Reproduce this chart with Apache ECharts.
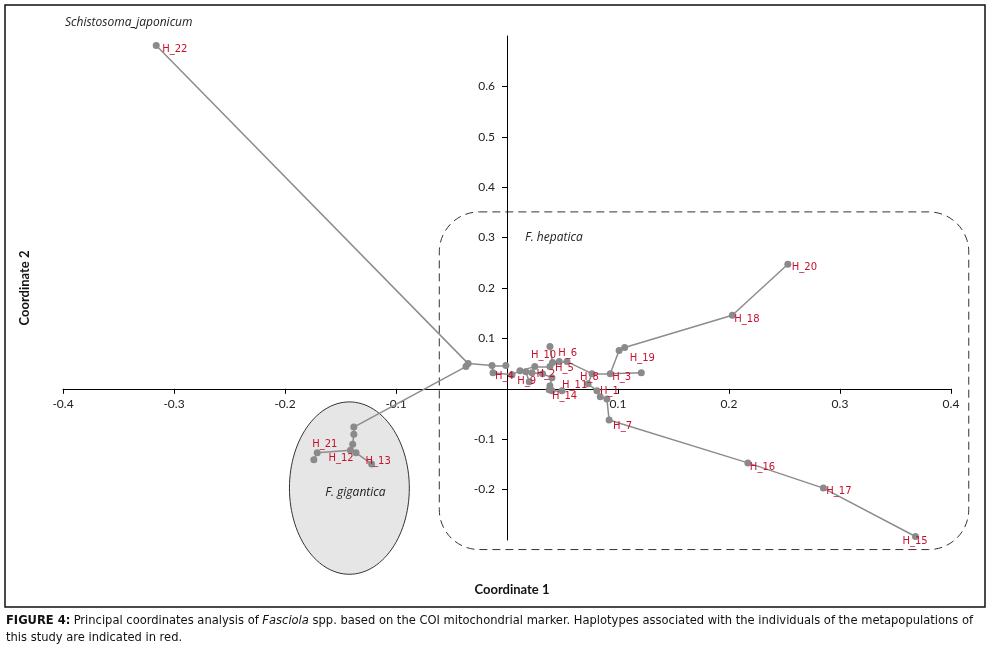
<!DOCTYPE html>
<html>
<head>
<meta charset="utf-8">
<script src="https://cdn.jsdelivr.net/npm/echarts@6/dist/echarts.min.js"></script>
<style>
html, body { margin: 0; padding: 0; background: #fff; }
#pcoa { width: 991px; height: 654px; }
</style>
</head>
<body>
<div id="pcoa"></div>
<script>
// haplotypes and unlabelled network nodes (names starting with "n")
var nodeNames = ['H_22', 'n1', 'n2', 'n3', 'n4', 'n5', 'H_12', 'H_21', 'n6', 'n7', 'H_13',
    'n8', 'n9', 'H_4', 'n10', 'n11', 'n12', 'n13', 'H_9', 'n14', 'H_2', 'n15', 'H_10', 'n16',
    'H_6', 'H_5', 'n17', 'n18', 'n19', 'n20', 'H_14', 'H_8', 'H_11', 'H_1', 'n21', 'n22', 'H_7',
    'H_3', 'n23', 'n24', 'H_19', 'H_18', 'H_20', 'H_16', 'H_17', 'H_15'];
var coord1 = [-0.316, -0.035, -0.037, -0.138, -0.138, -0.139, -0.141, -0.171, -0.174, -0.136, -0.122,
    -0.0135, -0.001, -0.0126, 0.0045, 0.0117, 0.017, 0.0225, 0.020, 0.025, 0.032, 0.0387, 0.0387, 0.041,
    0.047, 0.054, 0.0405, 0.0387, 0.038, 0.0405, 0.0495, 0.0766, 0.073, 0.081, 0.084, 0.090, 0.092,
    0.093, 0.121, 0.101, 0.106, 0.203, 0.253, 0.217, 0.285, 0.368];
var coord2 = [0.681, 0.050, 0.044, -0.076, -0.090, -0.110, -0.122, -0.127, -0.141, -0.127, -0.149,
    0.046, 0.046, 0.032, 0.028, 0.036, 0.034, 0.032, 0.014, 0.044, 0.030, 0.084, 0.044, 0.052,
    0.054, 0.054, 0.022, 0.006, -0.002, -0.004, -0.004, 0.030, 0.010, -0.004, -0.016, -0.020, -0.062,
    0.030, 0.032, 0.076, 0.082, 0.146, 0.247, -0.147, -0.197, -0.293];
var edges = [
    ['H_22', 'n1'], ['n1', 'n2'], ['n2', 'n3'], ['n3', 'n4'], ['n4', 'n5'], ['n5', 'H_12'],
    ['H_12', 'H_21'], ['H_21', 'n6'], ['H_12', 'n7'], ['n7', 'H_13'],
    ['n1', 'n8'], ['n8', 'n9'], ['n8', 'H_4'], ['H_4', 'n10'], ['n10', 'n11'], ['n11', 'n12'],
    ['n12', 'n13'], ['n12', 'H_9'], ['n11', 'n14'], ['n14', 'H_10'], ['H_10', 'n16'], ['n16', 'n15'],
    ['n16', 'H_6'], ['H_6', 'H_5'], ['H_5', 'H_8'], ['H_8', 'H_3'], ['H_3', 'n23'], ['H_3', 'n24'],
    ['n24', 'H_19'], ['H_19', 'H_18'], ['H_18', 'H_20'], ['H_8', 'H_11'], ['H_11', 'H_1'],
    ['H_1', 'n21'], ['n21', 'n22'], ['n22', 'H_7'], ['H_7', 'H_16'], ['H_16', 'H_17'], ['H_17', 'H_15'],
    ['n13', 'H_2'], ['H_2', 'n17'], ['n17', 'n18'], ['n18', 'n19'], ['n19', 'n20'], ['n20', 'H_14']
];
// group outlines, in axis units
var giganticaEllipse = { cx: -0.142, cy: -0.197, rx: 0.054, ry: 0.171 };
var hepaticaBox = { x0: -0.061, x1: 0.416, y0: -0.319, y1: 0.351 };
var xRange = [-0.4, 0.4];
var yRange = [-0.3, 0.7];
var xTicks = [-0.4, -0.3, -0.2, -0.1, 0.1, 0.2, 0.3, 0.4];
var yTicks = [-0.2, -0.1, 0.1, 0.2, 0.3, 0.4, 0.5, 0.6];

// label placement (pixels from the point)
var labelOffset = {
    H_22: [6, 4], H_20: [4, 3], H_18: [2, 4], H_19: [5, 11], H_3: [2, 4], H_8: [-12, 4],
    H_1: [3, 1], H_11: [-26, 2], H_14: [-10, 6], H_5: [-12, 7], H_6: [-1, -8], H_10: [-19, -11],
    H_2: [-6, 1], H_9: [-12, 0], H_4: [2, 4], H_7: [4, 6], H_16: [2, 5], H_17: [3, 3],
    H_15: [-13, 5], H_21: [-5, -8], H_12: [-22, 8], H_13: [-6, -2]
};

var nodes = nodeNames.map(function (n, i) {
    var item = { name: n, value: [coord1[i], coord2[i]] };
    if (n.indexOf('H_') === 0) {
        item.label = { show: true, offset: labelOffset[n] || [3, 3] };
    }
    return item;
});
var links = edges.map(function (e) { return { source: e[0], target: e[1] }; });

function oneDecimal(v) { return v.toFixed(1); }

var W = 991, H = 654;
var gridBox = { left: 63, right: 40, top: 36, bottom: 114 };
var plotW = W - gridBox.left - gridBox.right;
var plotH = H - gridBox.top - gridBox.bottom;
// axes cross at the origin: shift them there so the tick labels follow
var xAxisShift = plotH * (0 - yRange[0]) / (yRange[1] - yRange[0]);
var yAxisShift = plotW * (0 - xRange[0]) / (xRange[1] - xRange[0]);

var myChart = echarts.init(document.getElementById('pcoa'));

var option = {
    animation: false,
    grid: gridBox,
    xAxis: {
        type: 'value', min: xRange[0], max: xRange[1], interval: 0.1,
        position: 'bottom', offset: -xAxisShift,
        axisLine: { show: true, onZero: false, lineStyle: { color: '#000', width: 1 } },
        axisTick: { show: true, length: 5, customValues: xTicks, lineStyle: { color: '#000' } },
        axisLabel: { customValues: xTicks, formatter: oneDecimal, margin: 9, color: '#222', fontFamily: 'Lato', fontSize: 12 },
        splitLine: { show: false }
    },
    yAxis: {
        type: 'value', min: yRange[0], max: yRange[1], interval: 0.1,
        position: 'left', offset: -yAxisShift,
        axisLine: { show: true, onZero: false, lineStyle: { color: '#000', width: 1 } },
        axisTick: { show: true, length: 5, customValues: yTicks, lineStyle: { color: '#000' } },
        axisLabel: { customValues: yTicks, formatter: oneDecimal, margin: 12, color: '#222', fontFamily: 'Lato', fontSize: 12 },
        splitLine: { show: false }
    },
    series: [{
        type: 'graph',
        coordinateSystem: 'cartesian2d',
        layout: 'none',
        symbol: 'circle',
        symbolSize: 7,
        z: 5,
        itemStyle: { color: '#8a8a8a' },
        lineStyle: { color: '#8c8c8c', width: 1.5, opacity: 1, curveness: 0 },
        label: {
            show: false, position: 'inside', align: 'left', verticalAlign: 'middle',
            color: '#c8102e', fontFamily: 'DejaVu Sans', fontSize: 10,
            formatter: '{b}'
        },
        emphasis: { disabled: true },
        data: nodes,
        links: links
    }]
};

myChart.setOption(option);

// outlines and texts
function px(p) { return myChart.convertToPixel({ gridIndex: 0 }, p); }
var c = px([giganticaEllipse.cx, giganticaEllipse.cy]);
var e1 = px([giganticaEllipse.cx + giganticaEllipse.rx, giganticaEllipse.cy + giganticaEllipse.ry]);
var rxp = e1[0] - c[0], ryp = c[1] - e1[1];
var ellPts = [];
for (var k = 0; k < 120; k++) {
    var a = k / 120 * Math.PI * 2;
    ellPts.push([c[0] + rxp * Math.cos(a), c[1] + ryp * Math.sin(a)]);
}
var b0 = px([hepaticaBox.x0, hepaticaBox.y1]);
var b1 = px([hepaticaBox.x1, hepaticaBox.y0]);

var italic = { fontFamily: 'Open Sans', fontStyle: 'italic', fontSize: 12, fill: '#222' };
var capFont = "'DejaVu Sans Condensed', 'Liberation Sans Narrow', sans-serif";
var capSize = 12.8;

myChart.setOption({
    graphic: [
        { type: 'rect', z: -10, shape: { x: 5, y: 5, width: 980, height: 602 },
          style: { fill: 'none', stroke: '#111', lineWidth: 1.5 } },
        { type: 'polygon', z: -5, shape: { points: ellPts },
          style: { fill: '#e6e6e6', stroke: '#333', lineWidth: 1 } },
        { type: 'rect', z: -5, shape: { x: b0[0], y: b0[1], width: b1[0] - b0[0], height: b1[1] - b0[1], r: 40 },
          style: { fill: 'none', stroke: '#333', lineWidth: 1, lineDash: [8, 5] } },
        { type: 'text', x: 65, y: 23, style: Object.assign({ text: 'Schistosoma_japonicum', verticalAlign: 'middle' }, italic) },
        { type: 'text', x: 525, y: 238, style: Object.assign({ text: 'F. hepatica', verticalAlign: 'middle' }, italic) },
        { type: 'text', x: c[0] + 6, y: 493, style: Object.assign({ text: 'F. gigantica', align: 'center', verticalAlign: 'middle' }, italic) },
        { type: 'text', x: 512, y: 590, style: { text: 'Coordinate 1', align: 'center', verticalAlign: 'middle',
            fontFamily: 'Lato', fontWeight: 'bold', fontSize: 13, fill: '#111' } },
        { type: 'text', x: 25, y: 288, rotation: Math.PI / 2,
          style: { text: 'Coordinate 2', align: 'center', verticalAlign: 'middle',
            fontFamily: 'Lato', fontWeight: 'bold', fontSize: 13, fill: '#111' } },
        { type: 'text', x: 6, y: 612,
          style: {
            text: '{b|FIGURE 4:} {n|Principal coordinates analysis of }{i|Fasciola}{n| spp. based on the COI mitochondrial marker. Haplotypes associated with the individuals of the metapopulations of}\n{n|this study are indicated in red.}',
            fill: '#111',
            rich: {
                b: { fontFamily: capFont, fontWeight: 'bold', fontSize: capSize, fill: '#111', lineHeight: 17 },
                n: { fontFamily: capFont, fontSize: capSize, fill: '#111', lineHeight: 17 },
                i: { fontFamily: capFont, fontStyle: 'italic', fontSize: capSize, fill: '#111', lineHeight: 17 }
            }
          } }
    ]
});
</script>
</body>
</html>
